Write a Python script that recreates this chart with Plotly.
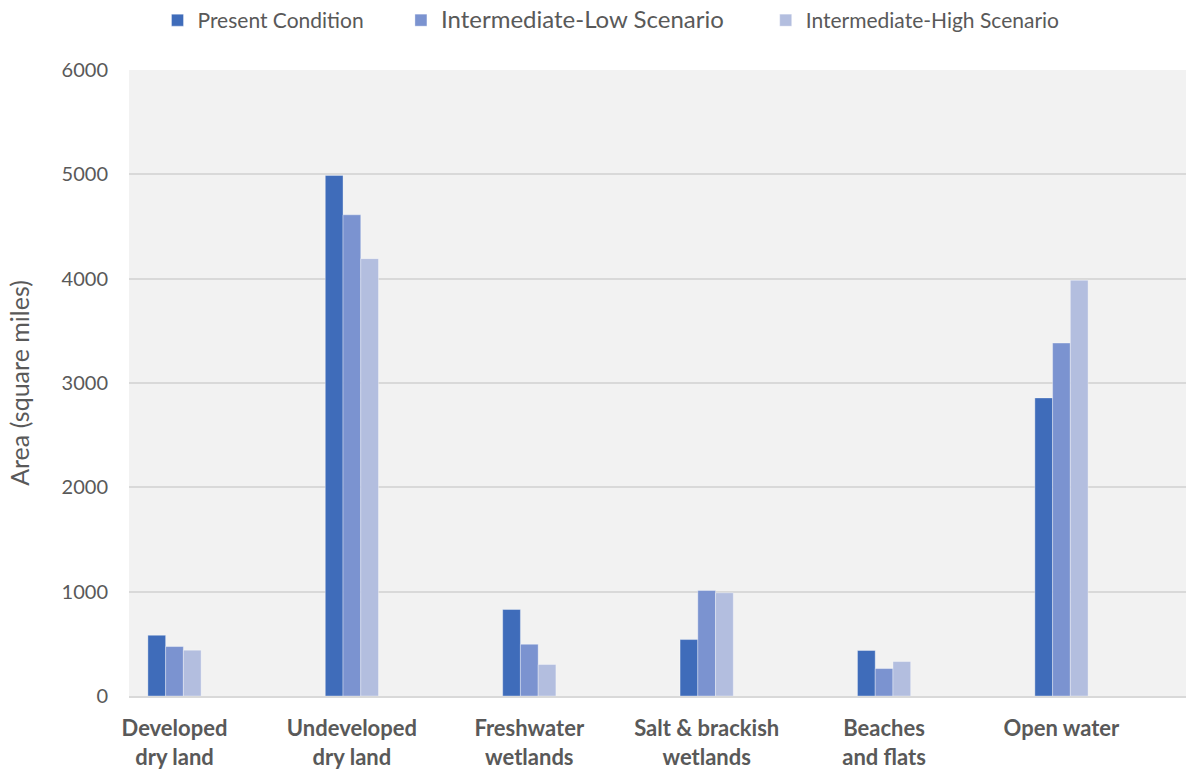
import plotly.graph_objects as go

# Land-cover categories (two-line tick labels)
categories = [
    "Developed<br>dry land",
    "Undeveloped<br>dry land",
    "Freshwater<br>wetlands",
    "Salt & brackish<br>wetlands",
    "Beaches<br>and flats",
    "Open water",
]

# Area in square miles for each scenario
present_condition = [582, 4990, 829, 541, 436, 2857]
intermediate_low = [474, 4612, 496, 1011, 263, 3383]
intermediate_high = [439, 4192, 302, 989, 330, 3985]

y_ticks = [0, 1000, 2000, 3000, 4000, 5000, 6000]

# (label, values, colour, legend font size, trailing pad)
series = [
    ("Present Condition", present_condition, "#3f6cba", 21, 6),
    ("Intermediate-Low Scenario", intermediate_low, "#7b93d0", 24, 6),
    ("Intermediate-High Scenario", intermediate_high, "#b3bedf", 21, 0),
]

positions = list(range(len(categories)))
text_color = "#595959"
font_family = "Lato, 'Noto Sans', sans-serif"

fig = go.Figure()
for name, values, color, size, pad in series:
    fig.add_trace(go.Bar(
        x=positions,
        y=values,
        name=f"<span style='font-size:{size}px'>{name}{'&nbsp;' * pad}</span>",
        marker=dict(color=color, line=dict(color="rgba(255,255,255,0.35)", width=1)),
    ))

fig.update_layout(
    width=1187,
    height=772,
    barmode="group",
    bargap=0.70,
    bargroupgap=0,
    paper_bgcolor="white",
    plot_bgcolor="#f2f2f2",
    margin=dict(l=129, r=1, t=70, b=76),
    font=dict(family=font_family, color=text_color, size=18),
    showlegend=True,
    legend=dict(
        orientation="h",
        x=0.456,
        xanchor="center",
        yref="container",
        y=1.0,
        yanchor="top",
        font=dict(size=21, color=text_color),
        itemwidth=30,
        bgcolor="rgba(0,0,0,0)",
    ),
)

fig.update_xaxes(
    tickmode="array",
    tickvals=positions,
    ticktext=[f"<b>{c}</b>" for c in categories],
    range=[-0.2565, 5.702],
    showgrid=False,
    zeroline=False,
    showline=True,
    linecolor="#d9d9d9",
    linewidth=2,
    ticks="",
    ticklabelstandoff=12,
    tickfont=dict(size=22, color=text_color),
)

fig.update_yaxes(
    range=[0, 6000],
    tickmode="array",
    tickvals=y_ticks,
    ticktext=[str(v) for v in y_ticks],
    showgrid=True,
    gridcolor="#d9d9d9",
    gridwidth=1.5,
    zeroline=False,
    ticks="",
    ticklabelstandoff=20,
    tickfont=dict(size=20, color=text_color),
    title=dict(text="Area (square miles)", font=dict(size=25, color=text_color), standoff=24),
)

fig.write_html("out.html")
